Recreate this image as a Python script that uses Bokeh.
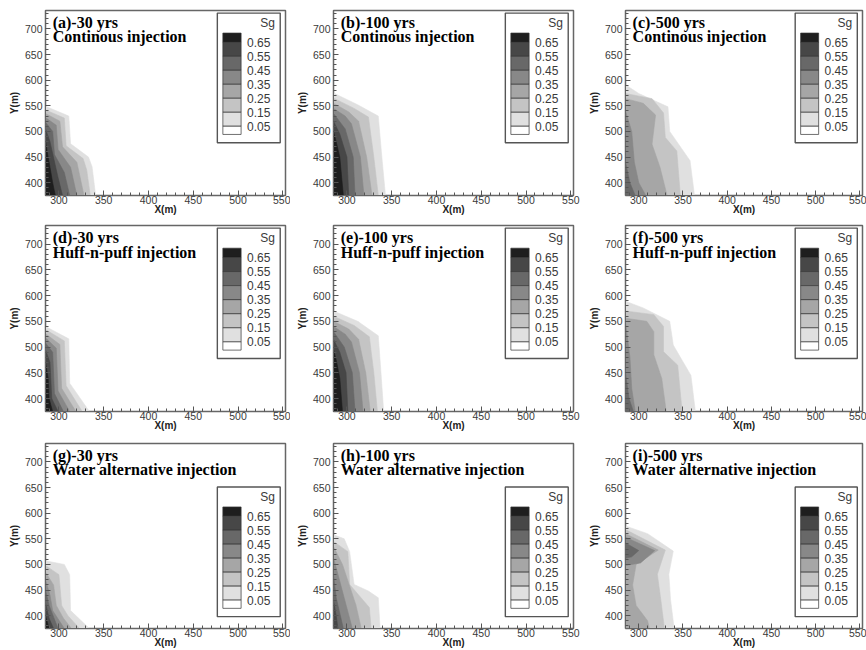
from bokeh.plotting import figure
from bokeh.layouts import gridplot
from bokeh.models import Range1d, SingleIntervalTicker
from bokeh.core.properties import value
from bokeh.embed import file_html
from bokeh.resources import INLINE

# ---------------- data ----------------
X_MIN, X_MAX = 285, 553
Y_MIN, Y_MAX = 375, 736

LEVELS = [0.05, 0.15, 0.25, 0.35, 0.45, 0.55, 0.65]
LEVEL_LABELS = ["0.05", "0.15", "0.25", "0.35", "0.45", "0.55", "0.65"]
LEVEL_COLORS = ["#e0e0e0", "#c4c4c4", "#a6a6a6", "#888888", "#686868", "#474747", "#1e1e1e"]

PANEL_TAGS = ["(a)-30 yrs", "(b)-100 yrs", "(c)-500 yrs",
              "(d)-30 yrs", "(e)-100 yrs", "(f)-500 yrs",
              "(g)-30 yrs", "(h)-100 yrs", "(i)-500 yrs"]
PANEL_SCHEMES = ["Continous injection"] * 3 + ["Huff-n-puff injection"] * 3 + \
                ["Water alternative injection"] * 3
LEGEND_SHIFT = [0, 0, 0, 0, 0, 0, -0.221, -0.221, -0.221]

# contour boundaries: (level, x vertices, y vertices), from the left edge down to the bottom
CONTOUR_A = [
    (0.05, [285, 311, 313, 333, 337, 341], [549, 530, 476, 450, 431, 375]),
    (0.15, [285, 306, 308, 327, 331, 335], [542, 526, 472, 447, 425, 375]),
    (0.25, [285, 301, 304, 320, 328], [535, 520, 470, 440, 375]),
    (0.35, [285, 297, 299, 313, 320], [527, 512, 465, 430, 375]),
    (0.45, [285, 293, 295, 306, 312], [518, 500, 455, 420, 375]),
    (0.55, [285, 290, 299, 304], [505, 480, 410, 375]),
    (0.65, [285, 288, 293, 296], [480, 450, 400, 375]),
]
CONTOUR_B = [
    (0.05, [285, 312, 335, 339, 343], [575, 552, 530, 450, 375]),
    (0.15, [285, 308, 324, 330, 335], [565, 545, 528, 450, 375]),
    (0.25, [285, 302, 313, 322, 328], [555, 538, 520, 450, 375]),
    (0.35, [285, 298, 305, 315, 319], [545, 530, 515, 450, 375]),
    (0.45, [285, 298, 307, 309], [535, 505, 450, 375]),
    (0.55, [285, 292, 300, 302], [520, 495, 450, 375]),
    (0.65, [285, 288, 292, 296], [500, 480, 450, 375]),
]
CONTOUR_C = [
    (0.05, [285, 300, 333, 335, 358, 363], [591, 574, 548, 500, 443, 375]),
    (0.15, [285, 315, 328, 330, 343, 347], [574, 564, 536, 488, 462, 375]),
    (0.25, [285, 305, 319, 315, 324, 332], [564, 555, 532, 475, 430, 375]),
    (0.35, [285, 292, 295, 300, 308], [540, 500, 440, 400, 375]),
    (0.45, [285, 290, 296], [440, 400, 375]),
]
CONTOUR_D = [
    (0.05, [285, 311, 312, 334], [540, 516, 430, 375]),
    (0.15, [285, 306, 308, 326], [534, 512, 425, 375]),
    (0.25, [285, 301, 303, 319], [526, 505, 420, 375]),
    (0.35, [285, 297, 299, 312], [518, 498, 415, 375]),
    (0.45, [285, 293, 295, 305], [508, 490, 410, 375]),
    (0.55, [285, 290, 292, 299], [495, 470, 400, 375]),
    (0.65, [285, 288, 289, 293], [470, 440, 400, 375]),
]
CONTOUR_E = [
    (0.05, [285, 312, 335, 338, 341], [570, 550, 522, 450, 375]),
    (0.15, [285, 308, 325, 330, 334], [560, 542, 520, 450, 375]),
    (0.25, [285, 302, 313, 321, 326], [550, 535, 515, 450, 375]),
    (0.35, [285, 298, 305, 314, 318], [540, 525, 510, 450, 375]),
    (0.45, [285, 297, 306, 309], [530, 500, 450, 375]),
    (0.55, [285, 292, 299, 301], [515, 490, 450, 375]),
    (0.65, [285, 288, 292, 295], [495, 475, 440, 375]),
]
CONTOUR_F = [
    (0.05, [285, 305, 335, 339, 359, 364], [589, 576, 550, 504, 445, 375]),
    (0.15, [285, 317, 328, 328, 344, 349], [570, 563, 540, 491, 465, 375]),
    (0.25, [285, 309, 317, 317, 326, 331], [556, 550, 530, 485, 439, 375]),
    (0.35, [285, 290, 292, 296], [548, 480, 420, 375]),
    (0.45, [285, 289, 294], [450, 400, 375]),
]
CONTOUR_G = [
    (0.05, [285, 306, 312, 313, 334], [507, 500, 480, 410, 375]),
    (0.15, [285, 300, 303, 310, 323], [498, 480, 420, 400, 375]),
    (0.25, [285, 294, 297, 305, 314], [485, 460, 420, 395, 375]),
    (0.35, [285, 290, 293, 306], [470, 440, 410, 375]),
    (0.45, [285, 289, 299], [450, 420, 375]),
    (0.55, [285, 289, 294], [425, 395, 375]),
    (0.65, [285, 289], [400, 375]),
]
CONTOUR_H = [
    (0.05, [285, 297, 303, 308, 324, 335, 337], [558, 550, 525, 461, 448, 435, 375]),
    (0.15, [285, 301, 303, 325, 327], [545, 525, 461, 416, 375]),
    (0.25, [285, 295, 310, 316], [535, 500, 421, 375]),
    (0.35, [285, 292, 306], [513, 467, 375]),
    (0.45, [285, 288, 296], [480, 435, 375]),
    (0.55, [285, 288, 290], [430, 400, 375]),
]
CONTOUR_I = [
    (0.05, [285, 310, 339, 334, 336, 340], [575, 560, 526, 481, 430, 375]),
    (0.15, [285, 330, 321, 325, 329], [568, 528, 481, 430, 375]),
    (0.25, [285, 322, 297, 293, 297, 310, 312], [560, 528, 500, 460, 420, 390, 375]),
    (0.35, [285, 318, 302, 285], [553, 527, 503, 498]),
    (0.45, [285, 300, 292, 285], [542, 527, 515, 512]),
]
CONTOURS = [CONTOUR_A, CONTOUR_B, CONTOUR_C, CONTOUR_D, CONTOUR_E,
            CONTOUR_F, CONTOUR_G, CONTOUR_H, CONTOUR_I]

# page layout (pixels)
COL_WIDTHS = [290, 290, 286]
COL_BORDER_LEFT = [45, 43, 45]
COL_BORDER_RIGHT = [5, 7, 4]
ROW_HEIGHTS = [217, 216, 217]
ROW_BORDER_TOP = [10, 8, 10]

TICK_FONT = "Liberation Sans"
TITLE_FONT = "Liberation Serif"


def fx(f):
    return X_MIN + f * (X_MAX - X_MIN)


def fy(f):
    return Y_MIN + f * (Y_MAX - Y_MIN)


def make_panel(idx):
    r, c = divmod(idx, 3)
    p = figure(width=COL_WIDTHS[c], height=ROW_HEIGHTS[r],
               x_range=Range1d(X_MIN, X_MAX), y_range=Range1d(Y_MIN, Y_MAX),
               output_backend="svg", toolbar_location=None,
               min_border_left=COL_BORDER_LEFT[c], min_border_right=COL_BORDER_RIGHT[c],
               min_border_top=ROW_BORDER_TOP[r], min_border_bottom=10,
               background_fill_color="white", border_fill_color="white",
               outline_line_color="#666666", outline_line_width=1.5)
    p.grid.visible = False

    # contour bands
    xs_all, ys_all, cols = [], [], []
    for level, xs, ys in sorted(CONTOURS[idx], key=lambda cc: cc[0]):
        xs_all.append(list(xs) + [X_MIN])
        ys_all.append(list(ys) + [Y_MIN])
        cols.append(LEVEL_COLORS[LEVELS.index(level)])
    p.patches(xs=xs_all, ys=ys_all, fill_color=cols, line_color=cols, line_width=0.6)

    # panel title
    p.text(x=[fx(0.03), fx(0.03)], y=[fy(0.935), fy(0.857)],
           text=[PANEL_TAGS[idx], PANEL_SCHEMES[idx]],
           text_font=value(TITLE_FONT), text_font_style="bold",
           text_font_size="16px", text_color="black",
           text_baseline="middle", text_align="left")

    # legend
    s = LEGEND_SHIFT[idx]
    p.quad(left=[fx(0.716)], right=[fx(0.978)], bottom=[fy(0.285 + s)], top=[fy(0.986 + s)],
           fill_color="white", line_color="#555555", line_width=1.4)
    bounds = [fy(0.828 - k * 0.0756 + s) for k in range(len(LEVELS))]  # 0.65 ... 0.05
    tops = [fy(0.878 + s)] + bounds
    bottoms = bounds + [fy(0.330 + s)]
    band_cols = [LEVEL_COLORS[6]] + [LEVEL_COLORS[k] for k in range(5, -1, -1)] + ["white"]
    p.quad(left=[fx(0.739)] * len(tops), right=[fx(0.815)] * len(tops),
           top=tops, bottom=bottoms, fill_color=band_cols,
           line_color="#333333", line_width=0.7)
    p.text(x=[fx(0.84)] * len(LEVELS), y=bounds,
           text=list(reversed(LEVEL_LABELS)),
           text_font=value(TICK_FONT), text_font_size="12px", text_color="#3a3a3a",
           text_baseline="middle", text_align="left")
    p.text(x=[fx(0.925)], y=[fy(0.932 + s)], text=["Sg"],
           text_font=value(TICK_FONT), text_font_size="12px", text_color="#3a3a3a",
           text_baseline="middle", text_align="center")

    # axes
    for ax, lab in ((p.xaxis[0], "X(m)"), (p.yaxis[0], "Y(m)")):
        ax.axis_label = lab
        ax.axis_label_text_font = TICK_FONT
        ax.axis_label_text_font_style = "bold"
        ax.axis_label_text_font_size = "10px"
        ax.axis_label_text_color = "#222222"
        ax.axis_label_text_line_height = 0.9
        ax.major_label_text_font = TICK_FONT
        ax.major_label_text_font_size = "10.5px"
        ax.major_label_text_color = "#3a3a3a"
        ax.major_label_text_line_height = 0.9
        ax.major_tick_in = 5
        ax.major_tick_out = 0
        ax.minor_tick_in = 3
        ax.minor_tick_out = 0
        ax.major_tick_line_color = "#555555"
        ax.minor_tick_line_color = "#555555"
        ax.axis_line_color = "#666666"
        ax.ticker = SingleIntervalTicker(interval=50, num_minor_ticks=5)
    p.xaxis[0].major_label_standoff = 0
    p.xaxis[0].axis_label_standoff = -3
    p.yaxis[0].major_label_standoff = 3
    p.yaxis[0].axis_label_standoff = 2
    return p


panels = [make_panel(i) for i in range(9)]
grid = gridplot([panels[0:3], panels[3:6], panels[6:9]], toolbar_location=None)

open("out.html", "w").write(file_html(grid, INLINE))
